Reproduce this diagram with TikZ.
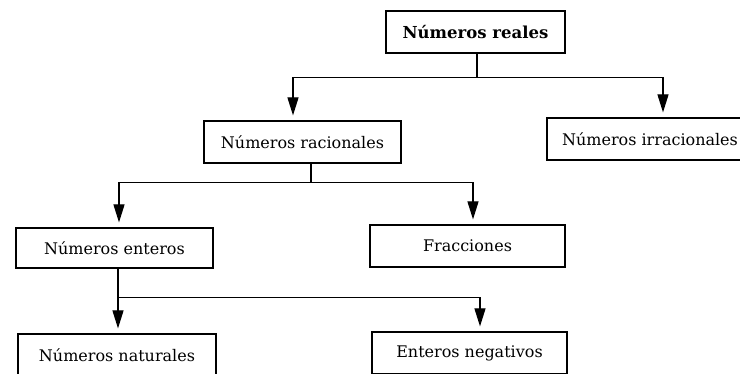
\documentclass[tikz,border=0pt]{standalone}
\usepackage{fontspec}
\setmainfont{DejaVu Serif}
\usetikzlibrary{arrows.meta,calc}
\begin{document}
\begin{tikzpicture}[x=1pt,y=-1pt,
  box/.style={draw,line width=1.2pt,minimum height=42pt,inner sep=0pt,font=\fontsize{16}{18}\selectfont},
  conn/.style={line width=1.2pt},
  arr/.style={conn,-{Triangle[length=18pt,width=11pt]},shorten >=5pt}]
\useasboundingbox (0,0) rectangle (740,374);
\clip (0,0) rectangle (740,374);
\node[box,minimum width=179pt,font=\fontsize{16.5}{18}\selectfont\bfseries] (reales) at (475.5,32) {Números reales};
\node[box,minimum width=206pt] (irr) at (650,139) {Números irracionales};
\node[box,minimum width=197pt] (rac) at (302.5,142) {Números racionales};
\node[box,minimum width=197pt,minimum height=40pt] (ent) at (114.5,248) {Números enteros};
\node[box,minimum width=195pt] (fra) at (467.5,246) {Fracciones};
\node[box,minimum width=198pt] (nat) at (117,355) {Números naturales};
\node[box,minimum width=195pt] (neg) at (469.5,353) {Enteros negativos};
% connectors
\coordinate (j1) at ($(reales.south)+(1.5,24)$);
\draw[conn] ([xshift=1.5pt]reales.south) -- (j1);
\draw[arr] (j1) -| ([xshift=-9.5pt]rac.north);
\draw[arr] (j1) -| ([xshift=13pt]irr.north);
\coordinate (j2) at ($(rac.south)+(8.5,19)$);
\draw[conn] ([xshift=8.5pt]rac.south) -- (j2);
\draw[arr] (j2) -| ([xshift=4.5pt]ent.north);
\draw[arr] (j2) -| ([xshift=5.5pt]fra.north);
\coordinate (j3) at ($(ent.south)+(3.5,29)$);
\draw[conn] ([xshift=3.5pt]ent.south) -- (j3);
\draw[arr] (j3) -- (j3 |- nat.north);
\draw[arr] (j3) -| ([xshift=10.5pt]neg.north);
\end{tikzpicture}
\end{document}
